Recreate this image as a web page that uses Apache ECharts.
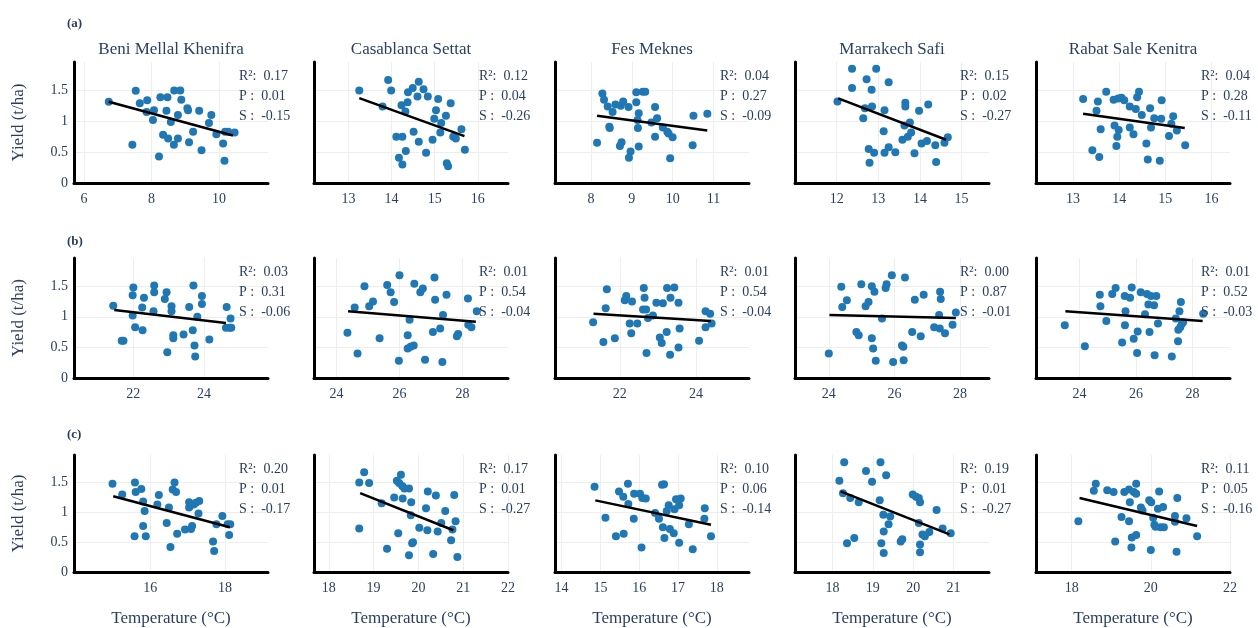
<!DOCTYPE html>
<html>
<head>
<meta charset="utf-8">
<script src="https://cdn.jsdelivr.net/npm/echarts@6/dist/echarts.min.js"></script>
<style>
  html, body { margin: 0; background: #fff; }
  #chart { width: 1258px; height: 628px; }
</style>
</head>
<body>
<div id="chart"></div>
<script>
const regions = ['Beni Mellal Khenifra', 'Casablanca Settat', 'Fes Meknes', 'Marrakech Safi', 'Rabat Sale Kenitra'];
const rowLabels = ['(a)', '(b)', '(c)'];
const yTicks = [0, 0.5, 1, 1.5];

// row (a)
const a1x = [6.73,7.53,7.43,7.65,7.87,7.85,8.07,8.04,8.26,8.22,8.34,8.47,8.44,8.49,8.57,8.66,8.67,8.85,8.88,8.78,8.78,9.06,9.08,9.11,9.23,9.41,9.48,9.70,9.77,9.92,10.12,10.18,10.16,10.27,10.46];
const a1y = [1.315,1.495,0.62,1.29,1.34,1.15,1.18,1.02,1.39,0.43,0.78,1.39,1.17,0.72,0.99,0.62,1.50,1.50,1.35,1.10,0.72,1.21,1.18,0.66,0.83,1.17,0.53,0.97,1.10,0.79,0.64,0.83,0.36,0.83,0.82];
const a2x = [13.25,13.92,13.99,13.79,14.11,14.25,14.17,14.25,14.23,14.32,14.33,14.37,14.38,14.49,14.51,14.60,14.63,14.63,14.74,14.80,14.84,14.95,14.99,15.03,15.08,15.13,15.15,15.26,15.28,15.31,15.37,15.43,15.49,15.62,15.70];
const a2y = [1.50,1.67,1.50,1.24,0.75,0.75,0.41,0.30,1.26,1.16,0.52,1.31,1.47,1.54,0.83,1.40,1.64,0.67,1.52,0.49,1.40,0.70,1.04,1.18,1.36,0.82,0.97,1.09,0.32,0.27,1.29,0.75,0.72,0.87,0.54];
const a3x = [8.15,8.28,8.32,8.41,8.53,8.45,8.46,8.60,8.73,8.79,8.75,8.71,8.92,8.97,8.93,9.11,9.11,9.17,9.14,9.15,9.17,9.27,9.33,9.48,9.57,9.62,9.57,9.76,9.87,9.90,10.00,9.94,10.49,10.51,10.85];
const a3y = [0.65,1.45,1.35,1.24,1.15,0.91,0.89,1.27,1.25,1.32,0.66,0.60,1.23,0.51,0.41,1.47,1.31,1.13,1.02,0.89,0.59,1.48,1.48,0.98,1.23,1.05,0.75,0.90,0.83,0.80,0.74,0.40,0.61,1.09,1.12];
const a4x = [12.02,12.37,12.37,12.72,12.84,12.95,13.25,12.68,12.64,12.85,13.15,13.13,12.77,12.79,12.90,13.15,13.25,13.41,13.65,13.65,13.63,13.76,13.79,13.71,13.58,13.87,13.98,14.20,14.04,14.17,14.37,14.39,14.59,14.67];
const a4y = [1.32,1.85,1.54,1.68,1.51,1.85,1.63,1.21,1.05,1.24,1.18,0.84,0.55,0.33,0.49,0.49,0.58,0.50,1.30,1.24,0.93,0.98,0.82,0.75,0.70,0.48,1.17,1.27,0.64,0.68,0.61,0.34,0.65,0.74];
const a5x = [13.22,13.54,13.51,13.72,13.60,13.42,13.57,13.88,13.98,14.05,14.11,13.90,13.99,13.96,13.94,14.23,14.36,14.39,14.43,14.23,14.31,14.49,14.59,14.62,14.67,14.69,14.76,14.91,14.92,14.88,15.08,15.13,15.17,15.25,15.43];
const a5y = [1.36,1.32,1.17,1.48,0.87,0.53,0.42,1.35,1.37,1.38,1.34,0.93,0.86,0.75,0.60,1.24,1.20,1.39,1.48,0.90,0.79,1.10,0.64,0.38,1.21,0.90,1.05,1.04,1.34,0.36,0.76,0.96,1.08,0.85,0.61];

// row (b)
const b1x = [21.43,21.67,21.72,22.00,21.98,21.98,22.05,22.25,22.30,22.26,22.59,22.59,22.57,22.89,22.94,22.96,23.08,23.08,23.13,23.13,23.42,23.58,23.70,23.68,23.73,23.75,23.81,23.94,23.94,24.15,24.64,24.62,24.75,24.72,24.77];
const b1y = [1.18,0.61,0.61,1.48,1.35,1.02,0.83,1.15,1.31,0.78,1.51,1.40,1.09,1.29,1.40,0.42,1.17,1.09,0.70,0.65,0.71,1.16,1.51,0.78,0.53,0.35,1.00,1.34,1.21,0.63,1.16,0.82,0.97,0.82,0.82];
const b2x = [24.35,24.58,24.67,24.89,25.04,25.16,25.37,25.61,25.72,25.83,25.98,26.00,26.26,26.32,26.26,26.35,26.45,26.47,26.66,26.74,26.81,27.06,27.11,27.13,27.29,27.36,27.38,27.49,27.82,27.86,28.17,28.18,28.28,28.45];
const b2y = [0.74,1.15,0.40,1.50,1.17,1.25,0.65,1.52,1.40,1.24,0.28,1.68,0.70,0.95,0.48,0.51,0.53,1.54,1.40,1.46,0.30,0.75,1.64,1.28,0.81,0.26,1.03,1.36,0.68,0.72,1.30,0.87,0.83,1.09];
const b3x = [21.30,21.57,21.63,21.66,21.87,22.13,22.17,22.32,22.26,22.30,22.46,22.63,22.65,22.61,22.69,22.70,22.74,22.87,22.96,23.13,23.05,23.10,23.24,23.43,23.33,23.23,23.32,23.54,23.57,23.54,24.08,24.25,24.37,24.25,24.41];
const b3y = [0.91,0.59,1.14,1.45,0.65,1.27,1.34,1.25,0.89,0.73,0.89,1.47,1.31,1.12,1.12,0.41,0.98,1.02,1.23,1.22,0.66,0.57,1.47,1.48,1.31,0.75,0.38,1.23,0.81,0.50,0.61,1.09,1.05,0.83,0.89];
const b4x = [24.00,24.38,24.41,24.55,24.84,24.91,24.99,25.12,25.21,25.31,25.39,25.31,25.35,25.43,25.62,25.73,25.76,25.92,25.96,26.23,26.27,26.28,26.32,26.54,26.62,26.80,26.89,27.21,27.36,27.38,27.39,27.41,27.54,27.77,27.87];
const b4y = [0.40,1.49,1.16,1.27,0.75,0.70,1.53,1.17,1.24,1.50,1.41,0.65,0.48,0.28,0.97,1.47,1.53,1.68,0.26,0.53,0.51,0.29,1.64,0.75,1.28,0.68,1.36,0.83,1.03,0.81,1.41,1.29,0.73,0.87,1.07];
const b5x = [23.48,24.19,24.72,24.74,24.95,25.16,25.28,25.51,25.60,25.63,25.61,25.79,25.85,25.92,26.04,26.06,26.17,26.32,26.39,26.44,26.48,26.53,26.64,26.66,26.72,26.78,27.27,27.41,27.49,27.50,27.54,27.59,27.57,27.62,27.67,28.38];
const b5y = [0.86,0.52,1.36,1.17,0.93,1.37,1.47,0.58,1.34,1.09,0.86,1.31,1.48,0.64,0.41,0.76,1.40,1.04,1.37,1.20,0.75,1.34,1.19,0.37,1.34,0.89,0.35,0.97,0.60,0.79,1.09,1.24,0.83,0.88,0.91,1.05];

// row (c)
const c1x = [14.99,15.25,15.59,15.61,15.58,15.76,15.81,15.85,15.81,15.88,16.23,16.19,16.50,16.44,16.54,16.60,16.65,16.69,16.72,16.93,17.04,17.04,17.09,17.12,17.16,17.22,17.31,17.29,17.68,17.71,17.77,17.93,18.07,18.11,18.14];
const c1y = [1.48,1.30,1.50,1.34,0.60,1.39,1.18,1.02,0.77,0.60,1.29,1.13,1.08,0.82,0.42,1.38,1.50,1.34,0.64,0.71,1.17,1.08,0.72,0.77,1.13,1.16,1.19,0.98,0.51,0.35,0.80,0.94,0.80,0.62,0.80];
const c2x = [18.68,18.68,18.79,18.90,19.18,19.30,19.46,19.52,19.57,19.61,19.64,19.55,19.65,19.69,19.79,19.79,19.84,19.83,19.88,19.86,20.02,20.17,20.21,20.20,20.33,20.39,20.43,20.51,20.60,20.73,20.76,20.83,20.87,20.80];
const c2y = [1.50,0.73,1.67,1.49,1.15,0.39,1.25,1.53,1.49,1.63,1.44,0.65,1.23,1.40,1.40,0.28,1.17,0.95,0.50,0.48,0.74,1.07,1.35,0.70,0.30,1.28,0.68,0.82,1.02,0.53,0.71,0.85,0.25,1.29];
const c3x = [14.85,15.13,15.40,15.48,15.59,15.60,15.71,15.72,15.86,15.87,16.02,16.08,16.17,16.06,16.41,16.51,16.59,16.64,16.61,16.65,16.76,16.71,16.79,16.89,16.91,16.95,17.03,17.07,17.03,17.28,17.38,17.69,17.68,17.85];
const c3y = [1.43,0.91,0.60,1.35,1.26,0.64,1.48,1.14,0.89,1.31,1.31,1.24,1.23,0.41,0.99,0.89,1.46,1.47,0.75,0.57,1.12,1.02,0.72,0.65,1.05,1.22,1.12,1.23,0.49,0.80,0.38,1.07,0.89,0.60];
const c4x = [18.29,18.17,18.26,18.44,18.36,18.54,18.65,18.83,18.98,19.19,19.33,19.17,19.26,19.43,19.39,19.27,19.21,19.27,19.69,19.73,19.99,20.07,20.14,20.17,20.14,20.23,20.29,20.17,20.17,20.40,20.58,20.73,20.93];
const c4y = [1.84,1.53,1.32,1.24,0.48,0.57,1.17,1.69,1.51,1.84,1.62,1.20,0.96,0.93,0.80,0.68,0.48,0.32,0.51,0.55,1.30,1.26,1.24,1.17,0.82,0.63,0.60,0.46,0.33,0.67,1.04,0.73,0.65];
const c5x = [18.17,18.56,18.61,18.90,19.06,19.10,19.26,19.33,19.45,19.45,19.47,19.52,19.51,19.57,19.63,19.63,19.63,19.75,19.79,19.96,20.01,20.00,20.06,20.09,20.18,20.12,20.21,20.25,20.31,20.33,20.61,20.61,20.67,20.65,20.90,21.17];
const c5y = [0.85,1.36,1.48,1.37,1.34,0.51,0.92,1.34,1.38,0.85,1.17,0.58,0.41,1.34,1.48,0.62,1.31,1.08,1.03,1.20,1.17,0.37,0.91,0.79,1.06,0.76,1.35,0.75,1.09,0.75,0.94,0.84,1.24,0.34,0.90,0.60];

// fitted line ends: [x start, x end] and [y start, y end]
const fitX = [
  [[6.73, 10.41], [13.25, 15.69], [8.15, 10.85], [12.04, 14.63], [13.22, 15.42]],
  [[21.46, 24.62], [24.37, 28.42], [21.31, 24.39], [24.02, 27.87], [23.50, 28.36]],
  [[15.01, 18.13], [18.70, 20.78], [14.87, 17.85], [18.20, 20.90], [18.20, 21.17]]
];
const fitY = [
  [[1.315, 0.77], [1.375, 0.76], [1.09, 0.85], [1.37, 0.70], [1.12, 0.89]],
  [[1.11, 0.90], [1.09, 0.92], [1.05, 0.93], [1.03, 0.98], [1.09, 0.93]],
  [[1.27, 0.75], [1.32, 0.70], [1.20, 0.79], [1.35, 0.63], [1.24, 0.77]]
];

const r2Vals = [['0.17','0.12','0.04','0.15','0.04'], ['0.03','0.01','0.01','0.00','0.01'], ['0.20','0.17','0.10','0.19','0.11']];
const pVals  = [['0.01','0.04','0.27','0.02','0.28'], ['0.31','0.54','0.54','0.87','0.52'], ['0.01','0.01','0.06','0.01','0.05']];
const sVals  = [['-0.15','-0.26','-0.09','-0.27','-0.11'], ['-0.06','-0.04','-0.04','-0.01','-0.03'], ['-0.17','-0.27','-0.14','-0.27','-0.16']];

const xMins = [[5.7, 12.2, 7.12, 11.0, 12.2], [20.32, 23.29, 20.30, 22.97, 22.46], [13.96, 17.67, 13.83, 17.07, 17.10]];
const xMaxs = [[11.45, 16.7, 11.87, 15.66, 16.4], [25.81, 29.44, 25.39, 28.88, 29.33], [19.15, 22.0, 18.83, 21.88, 22.0]];
const xTicks = [
  [[6, 8, 10], [13, 14, 15, 16], [8, 9, 10, 11], [12, 13, 14, 15], [13, 14, 15, 16]],
  [[22, 24], [24, 26, 28], [22, 24], [24, 26, 28], [24, 26, 28]],
  [[16, 18], [18, 19, 20, 21, 22], [14, 15, 16, 17, 18], [18, 19, 20, 21], [18, 20, 22]]
];

const ptsX = [[a1x, a2x, a3x, a4x, a5x], [b1x, b2x, b3x, b4x, b5x], [c1x, c2x, c3x, c4x, c5x]];
const ptsY = [[a1y, a2y, a3y, a4y, a5y], [b1y, b2y, b3y, b4y, b5y], [c1y, c2y, c3y, c4y, c5y]];

const FONT = 'Liberation Serif';
const TXT = '#2a3f5f';
const colLeft = [74, 314, 555, 795, 1036];
const plotW = 194;
const rowTop = [62, 258, 455];
const rowH = [121, 120, 119];
const rowLabelTop = [17, 235, 428];

const grid = [], xAxis = [], yAxis = [], series = [], title = [];

rowLabels.forEach((lab, r) => {
  title.push({
    text: lab, left: 67, top: rowLabelTop[r], padding: 0,
    textStyle: { fontFamily: FONT, fontSize: 13, fontWeight: 'bold', color: TXT }
  });
});

regions.forEach((name, c) => {
  title.push({
    text: name, left: colLeft[c] + plotW / 2, top: 41, padding: 0, textAlign: 'center',
    textStyle: { fontFamily: FONT, fontSize: 17, fontWeight: 'normal', color: TXT }
  });
});

for (let r = 0; r < 3; r++) {
  for (let c = 0; c < 5; c++) {
    const i = grid.length;
    grid.push({ left: colLeft[c], top: rowTop[r], width: plotW, height: rowH[r] });
    xAxis.push({
      type: 'value', gridIndex: i, min: xMins[r][c], max: xMaxs[r][c],
      axisLine: { show: true, onZero: false, lineStyle: { color: '#000', width: 3 } },
      axisTick: { show: false, customValues: xTicks[r][c] },
      axisLabel: { customValues: xTicks[r][c], fontFamily: FONT, fontSize: 14, color: TXT, margin: 9, hideOverlap: false },
      splitLine: { show: true, lineStyle: { color: '#eeeeee', width: 1 } },
      name: r === 2 ? 'Temperature (°C)' : '',
      nameLocation: 'middle', nameGap: 38,
      nameTextStyle: { fontFamily: FONT, fontSize: 17, color: TXT }
    });
    yAxis.push({
      type: 'value', gridIndex: i, min: 0, max: 1.96,
      axisLine: { show: true, onZero: false, lineStyle: { color: '#000', width: 3 } },
      axisTick: { show: false, customValues: yTicks },
      axisLabel: { show: c === 0, customValues: yTicks, fontFamily: FONT, fontSize: 14, color: TXT, margin: 6, hideOverlap: false },
      splitLine: { show: true, lineStyle: { color: '#eeeeee', width: 1 } },
      name: c === 0 ? 'Yield (t/ha)' : '',
      nameLocation: 'middle', nameGap: 47, nameRotate: 90,
      nameTextStyle: { fontFamily: FONT, fontSize: 17, color: TXT }
    });
    series.push({
      type: 'scatter', xAxisIndex: i, yAxisIndex: i,
      data: ptsX[r][c].map((x, k) => [x, ptsY[r][c][k]]),
      symbolSize: 8, itemStyle: { color: '#1f77b4', opacity: 1 }, z: 2
    });
    series.push({
      type: 'line', xAxisIndex: i, yAxisIndex: i,
      data: fitX[r][c].map((x, k) => [x, fitY[r][c][k]]),
      symbol: 'none', lineStyle: { color: '#000', width: 2.5 }, z: 3, silent: true
    });
    title.push({
      text: 'R²:  ' + r2Vals[r][c] + '\nP :  ' + pVals[r][c] + '\nS :  ' + sVals[r][c],
      left: colLeft[c] + plotW - 29, top: rowTop[r] + 4, padding: 0,
      textStyle: { fontFamily: FONT, fontSize: 14, fontWeight: 'normal', color: TXT, lineHeight: 20 }
    });
  }
}

const chart = echarts.init(document.getElementById('chart'));
chart.setOption({
  backgroundColor: '#fff',
  animation: false,
  title: title,
  grid: grid,
  xAxis: xAxis,
  yAxis: yAxis,
  series: series
});
</script>
</body>
</html>
